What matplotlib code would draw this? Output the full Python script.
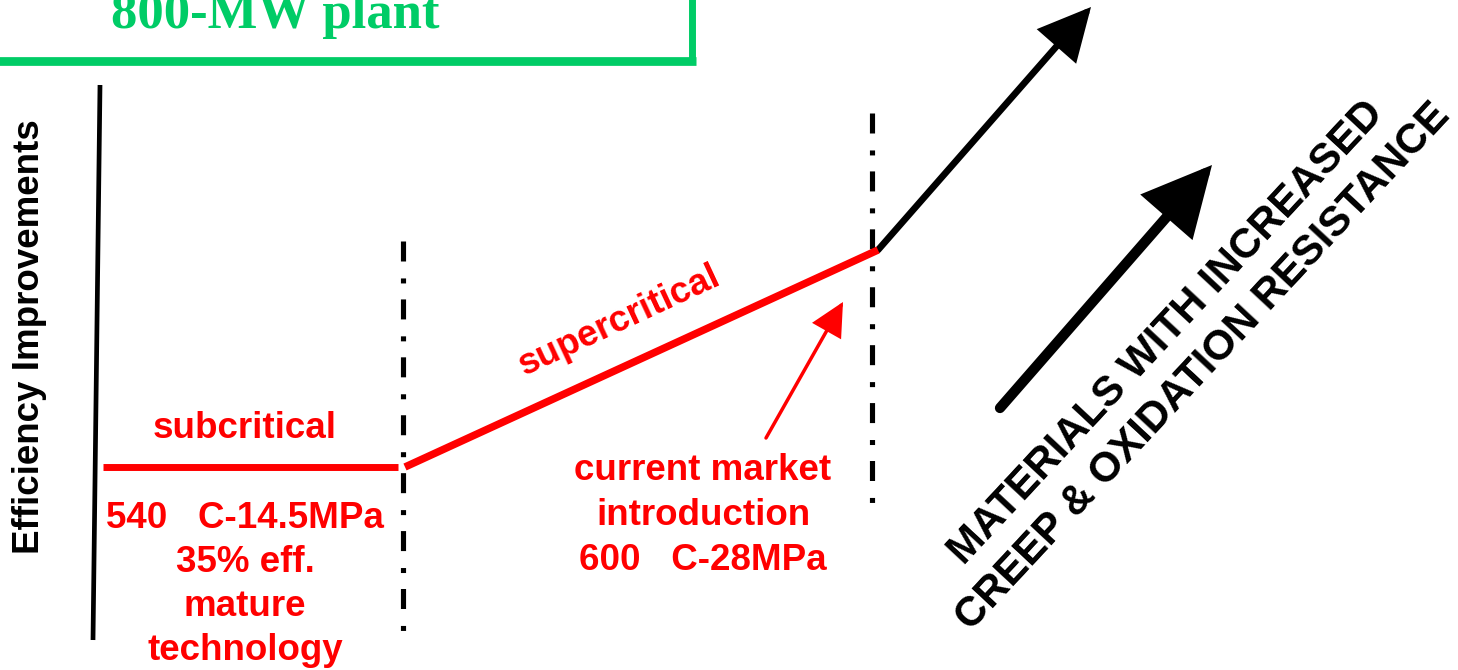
import matplotlib
matplotlib.use("Agg")
import matplotlib.pyplot as plt
from matplotlib.patches import FancyArrowPatch

plt.rcParams['lines.scale_dashes'] = False

# ---- data (diagram coordinates, pixel-like units, y grows downward) ----
stage_names = ["subcritical", "supercritical"]
path_x = [103, 403, 878]          # subcritical start, transition, supercritical end
path_y = [467, 467, 250]          # efficiency level along the path
future_x = [878, 1091]            # future (black) trend
future_y = [250, 7]
materials_x = [1000, 1212]        # materials arrow
materials_y = [408, 165]
pointer_x = [766, 843]            # red pointer arrow
pointer_y = [438, 302]
boundary_x = [403, 872]           # dash-dot stage boundaries
boundary_top = [241, 113]
boundary_bottom = [636, 506]
axis_x = [100, 93]
axis_y = [85, 640]

sub_lines = ["540   C-14.5MPa", "35% eff.", "mature", "technology"]
sup_lines = ["current market", "introduction", "600   C-28MPa"]
material_lines = ["MATERIALS WITH INCREASED", "CREEP & OXIDATION RESISTANCE"]
title_text = "800-MW plant"
ylabel_text = "Efficiency Improvements"

RED = "#FF0000"
GREEN = "#00CC66"

fig = plt.figure(figsize=(14.58, 6.70), dpi=100)
ax = fig.add_axes([0, 0, 1, 1])
ax.set_xlim(0, 1458)
ax.set_ylim(670, 0)
ax.axis('off')

# green title box (cut off at top)
ax.plot([-5, 696], [61, 61], color=GREEN, lw=6.3, solid_capstyle='butt')
ax.plot([692, 692], [-5, 64], color=GREEN, lw=5.0, solid_capstyle='butt')
ax.text(275, 28, title_text, color=GREEN, fontsize=38, fontweight='bold',
        family='Liberation Serif', ha='center', va='baseline')

# vertical axis line
ax.plot(axis_x, axis_y, color='black', lw=3.4, solid_capstyle='butt')
ax.text(30, 337, ylabel_text, rotation=90, fontsize=26.5, fontweight='bold',
        family='Liberation Sans', ha='center', va='center')

# dash-dot boundaries
for bx, bt, bb in zip(boundary_x, boundary_top, boundary_bottom):
    ax.plot([bx, bx], [bt, bb], color='black', lw=3.7,
            linestyle=(0, (14.4, 12.2, 3.6, 11.5)), dash_capstyle='butt')

# red efficiency path
ax.plot([path_x[0], path_x[1] - 5], path_y[:2], color=RED, lw=5.0, solid_capstyle='butt')
ax.plot([path_x[1] + 2, path_x[2]], [path_y[1], path_y[2]], color=RED, lw=5.4,
        solid_capstyle='butt')

# black future arrow
fa = FancyArrowPatch((future_x[0], future_y[0]), (future_x[1], future_y[1]),
                     arrowstyle='-|>,head_length=30,head_width=15',
                     mutation_scale=1, color='black', lw=4.8,
                     shrinkA=0, shrinkB=0, joinstyle='miter')
ax.add_patch(fa)

# thick materials arrow
ma = FancyArrowPatch((materials_x[0], materials_y[0]), (materials_x[1], materials_y[1]),
                     arrowstyle='-|>,head_length=38,head_width=19',
                     mutation_scale=1, color='black', lw=7.4,
                     shrinkA=0, shrinkB=0, joinstyle='miter')
ax.add_patch(ma)

# red pointer arrow
ra = FancyArrowPatch((pointer_x[0], pointer_y[0]), (pointer_x[1], pointer_y[1]),
                     arrowstyle='-|>,head_length=20,head_width=10',
                     mutation_scale=1, color=RED, lw=2.5,
                     shrinkA=0, shrinkB=0, joinstyle='miter')
ax.add_patch(ra)

# red labels
tkw = dict(color=RED, fontsize=26.5, fontweight='bold', family='Liberation Sans',
           ha='center', va='center')
ax.text(245, 428, stage_names[0], **tkw)
ax.text(619, 321, stage_names[1], rotation=25, rotation_mode='anchor', **tkw)
for i, s in enumerate(sub_lines):
    ax.text(245, 519 + 44 * i, s, **tkw)
for i, s in enumerate(sup_lines):
    ax.text(703, 471 + 44.5 * i, s, **tkw)

# materials text
mkw = dict(color='black', fontsize=30.2, fontweight='bold', family='Liberation Sans',
           ha='center', va='center', rotation=47, rotation_mode='anchor')
ax.text(1166, 333, material_lines[0], **mkw)
ax.text(1203, 367, material_lines[1], **mkw)

fig.savefig("out.png", dpi=100)
